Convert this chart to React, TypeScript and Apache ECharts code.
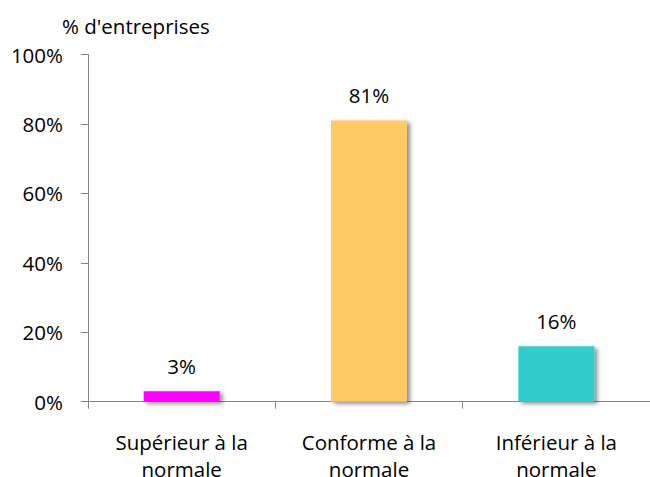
import React, { useEffect, useRef } from "react";
import * as echarts from "echarts";

const categories = ["Supérieur à la\nnormale", "Conforme à la\nnormale", "Inférieur à la\nnormale"];
const values = [3, 81, 16];
const colors = ["#FF00FF", "#FFC966", "#33CCCC"];
const yTicks = [0, 20, 40, 60, 80, 100];
const titleText = "% d'entreprises";

const FONT = "'Open Sans', sans-serif";
const FS = 20.5;

export default function App() {
  const ref = useRef<HTMLDivElement>(null);
  useEffect(() => {
    if (!ref.current) return;
    const chart = echarts.init(ref.current, undefined, { renderer: "svg" });
    chart.setOption({
      animation: false,
      backgroundColor: "#ffffff",
      title: {
        text: titleText,
        left: 57,
        top: 10,
        textStyle: { fontFamily: FONT, fontSize: FS, fontWeight: "normal", color: "#000" },
      },
      grid: {
        left: 88,
        right: 0,
        top: 54.5,
        bottom: 75.3,
        containLabel: false,
        outerBoundsMode: "none",
      },
      xAxis: {
        type: "category",
        data: categories,
        axisLine: { show: true, lineStyle: { color: "#868686", width: 1 } },
        axisTick: { show: true, alignWithLabel: false, length: 7, lineStyle: { color: "#868686" } },
        axisLabel: {
          interval: 0,
          margin: 27,
          fontFamily: FONT,
          fontSize: FS,
          lineHeight: 27,
          color: "#000",
        },
      },
      yAxis: {
        type: "value",
        min: 0,
        max: 100,
        interval: 20,
        splitLine: { show: false },
        axisLine: { show: true, lineStyle: { color: "#868686", width: 1 } },
        axisTick: { show: true, length: 7, lineStyle: { color: "#868686" } },
        axisLabel: {
          formatter: (v: number) => (yTicks.includes(v) ? v + "%" : ""),
          margin: 25,
          fontFamily: FONT,
          fontSize: FS,
          color: "#000",
        },
      },
      series: [
        {
          type: "bar",
          barWidth: 76,
          data: values.map((v, i) => ({
            value: v,
            itemStyle: {
              color: colors[i],
              shadowBlur: 4,
              shadowOffsetX: 3,
              shadowOffsetY: 2,
              shadowColor: "rgba(0,0,0,0.45)",
            },
          })),
          label: {
            show: true,
            position: "top",
            distance: 15,
            formatter: (p: any) => p.value + "%",
            fontFamily: FONT,
            fontSize: FS,
            color: "#000",
          },
        },
      ],
    });
    return () => chart.dispose();
  }, []);
  return <div ref={ref} style={{ width: 650, height: 477, position: "absolute", left: 0, top: 0 }} />;
}
